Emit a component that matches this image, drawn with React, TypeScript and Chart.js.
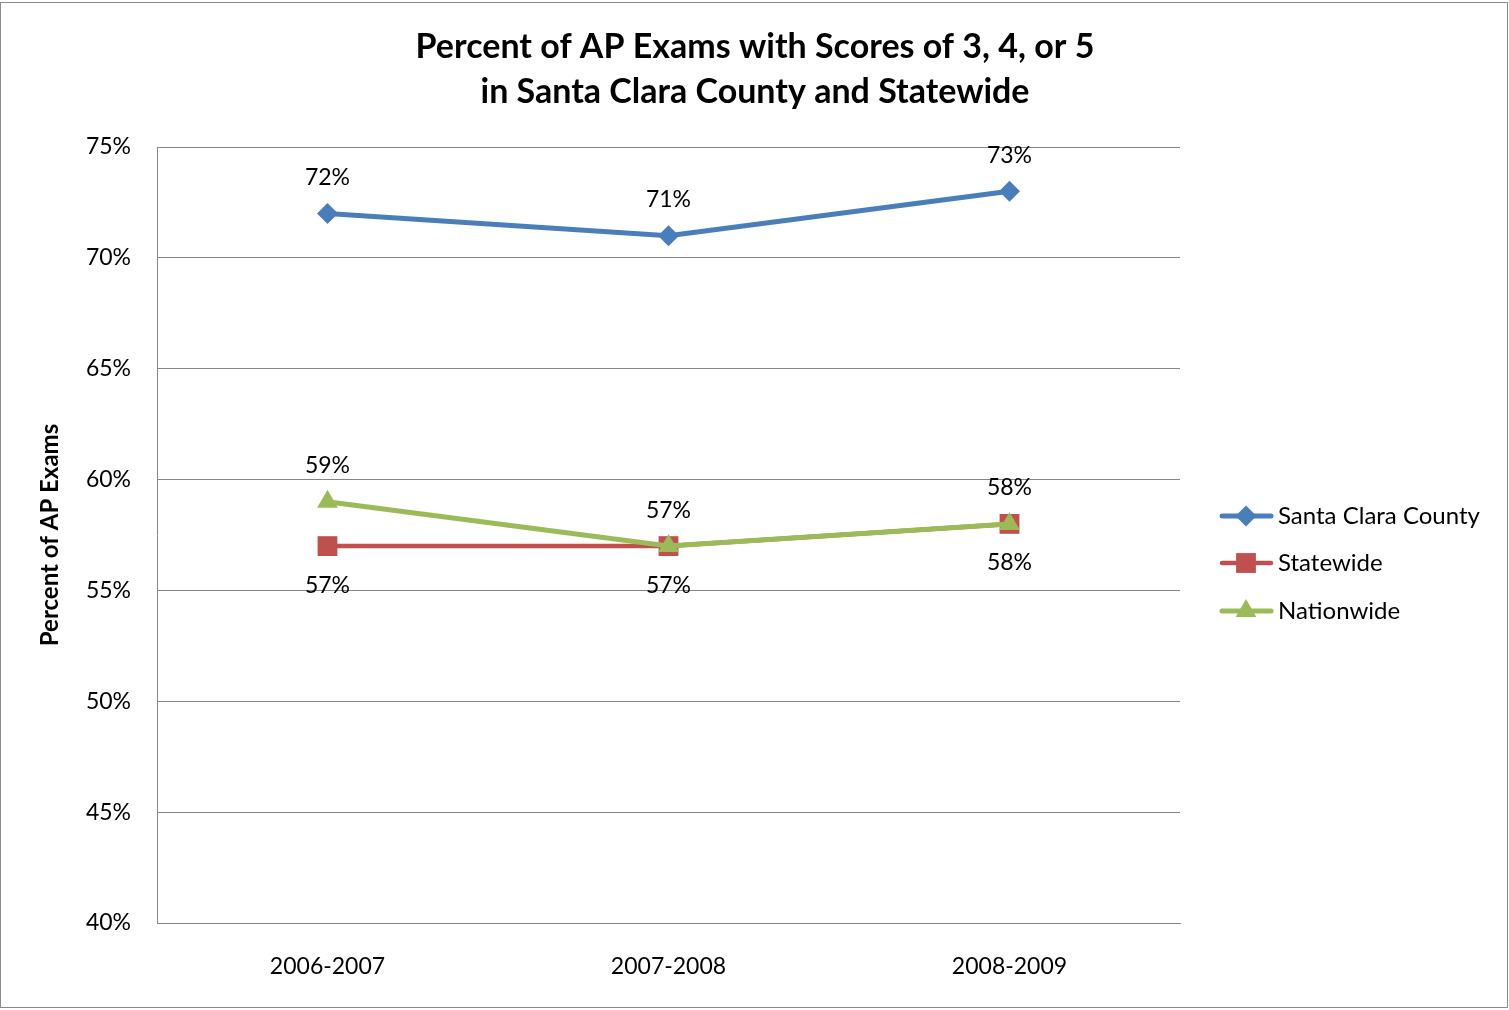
import React, { useEffect, useRef } from "react";
import { Chart, registerables } from "chart.js";

Chart.register(...registerables);

const categories = ["2006-2007", "2007-2008", "2008-2009"];
const santaClara = [72, 71, 73];
const statewide = [57, 57, 58];
const nationwide = [59, 57, 58];
const titleLines = ["Percent of AP Exams with Scores of 3, 4, or 5", "in Santa Clara County and Statewide"];
const yTitle = "Percent of AP Exams";

const FONT = "Lato, 'Open Sans', sans-serif";
const BLUE = "#4A7EBB";
const RED = "#C0504D";
const GREEN = "#9BBB59";

const seriesMeta = [
  { label: "Santa Clara County", data: santaClara, color: BLUE, style: "rectRot", radius: 10.5, width: 5, above: true, order: 0 },
  { label: "Statewide", data: statewide, color: RED, style: "rect", radius: 14, width: 4.5, above: false, order: 2 },
  { label: "Nationwide", data: nationwide, color: GREEN, style: "triangle", radius: 12, width: 5, above: true, order: 1 },
];

const decorPlugin = {
  id: "decor",
  afterDraw(chart: any) {
    const ctx = chart.ctx;
    ctx.save();
    // border
    ctx.strokeStyle = "#8a8a8a";
    ctx.lineWidth = 1;
    ctx.strokeRect(0.5, 2.5, 1507, 1005);
    // title
    ctx.fillStyle = "#000";
    ctx.font = `bold 34px ${FONT}`;
    ctx.textAlign = "center";
    ctx.textBaseline = "middle";
    ctx.fillText(titleLines[0], 755, 47);
    ctx.fillText(titleLines[1], 755, 92);
    // data labels
    ctx.font = `23px ${FONT}`;
    chart.data.datasets.forEach((ds: any, i: number) => {
      const meta = chart.getDatasetMeta(i);
      const above = seriesMeta[i].above;
      meta.data.forEach((pt: any, j: number) => {
        const y = above ? pt.y - 36 : pt.y + 39;
        ctx.fillText(ds.data[j] + "%", pt.x, y);
      });
    });
    // legend
    const rows = [516, 563, 611];
    seriesMeta.forEach((s, i) => {
      const y = rows[i];
      ctx.strokeStyle = s.color;
      ctx.lineWidth = s.width;
      ctx.lineCap = "round";
      ctx.beginPath();
      ctx.moveTo(1222, y);
      ctx.lineTo(1271, y);
      ctx.stroke();
      ctx.fillStyle = s.color;
      const r = s.radius;
      ctx.beginPath();
      if (s.style === "rectRot") {
        ctx.moveTo(1246, y - r);
        ctx.lineTo(1246 + r, y);
        ctx.lineTo(1246, y + r);
        ctx.lineTo(1246 - r, y);
      } else if (s.style === "rect") {
        const h = r * Math.SQRT1_2;
        ctx.rect(1246 - h, y - h, 2 * h, 2 * h);
      } else {
        ctx.moveTo(1246, y - r);
        ctx.lineTo(1246 + r * 0.866, y + r * 0.5);
        ctx.lineTo(1246 - r * 0.866, y + r * 0.5);
      }
      ctx.closePath();
      ctx.fill();
      ctx.fillStyle = "#000";
      ctx.font = `24px ${FONT}`;
      ctx.textAlign = "left";
      ctx.textBaseline = "middle";
      ctx.fillText(s.label, 1278, y);
    });
    ctx.restore();
  },
};

export default function App() {
  const ref = useRef<HTMLCanvasElement | null>(null);
  useEffect(() => {
    document.body.style.margin = "0";
    const canvas = ref.current!;
    const chart = new Chart(canvas, {
      type: "line",
      data: {
        labels: categories,
        datasets: seriesMeta.map((s) => ({
          label: s.label,
          data: s.data,
          order: s.order,
          borderColor: s.color,
          backgroundColor: s.color,
          borderWidth: s.width,
          pointStyle: s.style as any,
          pointRadius: s.radius,
          pointHoverRadius: s.radius,
          pointBorderWidth: 0,
          pointBackgroundColor: s.color,
          tension: 0,
          fill: false,
        })),
      },
      options: {
        responsive: false,
        animation: false,
        events: [],
        layout: { padding: { top: 147, right: 329, bottom: 0, left: 36 } },
        plugins: {
          legend: { display: false },
          title: { display: false },
          tooltip: { enabled: false },
        },
        scales: {
          x: {
            offset: true,
            grid: { display: false, drawTicks: false },
            border: { display: true, color: "#868686", width: 1 },
            ticks: { color: "#000", font: { family: FONT, size: 23 }, padding: 30 },
            afterFit: (scale: any) => {
              scale.height = 87;
            },
          },
          y: {
            min: 40,
            max: 75,
            grid: { color: "#868686", lineWidth: 1, drawTicks: false },
            border: { display: true, color: "#868686", width: 1 },
            ticks: {
              stepSize: 5,
              color: "#000",
              font: { family: FONT, size: 23 },
              padding: 26,
              callback: (v: any) => v + "%",
            },
            title: {
              display: true,
              text: yTitle,
              color: "#000",
              font: { family: FONT, size: 24, weight: "bold" },
              padding: { top: 0, bottom: 0 },
            },
            afterFit: (scale: any) => {
              scale.width = 121;
            },
          },
        },
      },
      plugins: [decorPlugin],
    });
    return () => chart.destroy();
  }, []);
  return (
    <div style={{ position: "absolute", left: 0, top: 0, width: 1509, height: 1010, background: "#fff" }}>
      <canvas ref={ref} width={1509} height={1010} style={{ width: 1509, height: 1010, display: "block" }} />
    </div>
  );
}
